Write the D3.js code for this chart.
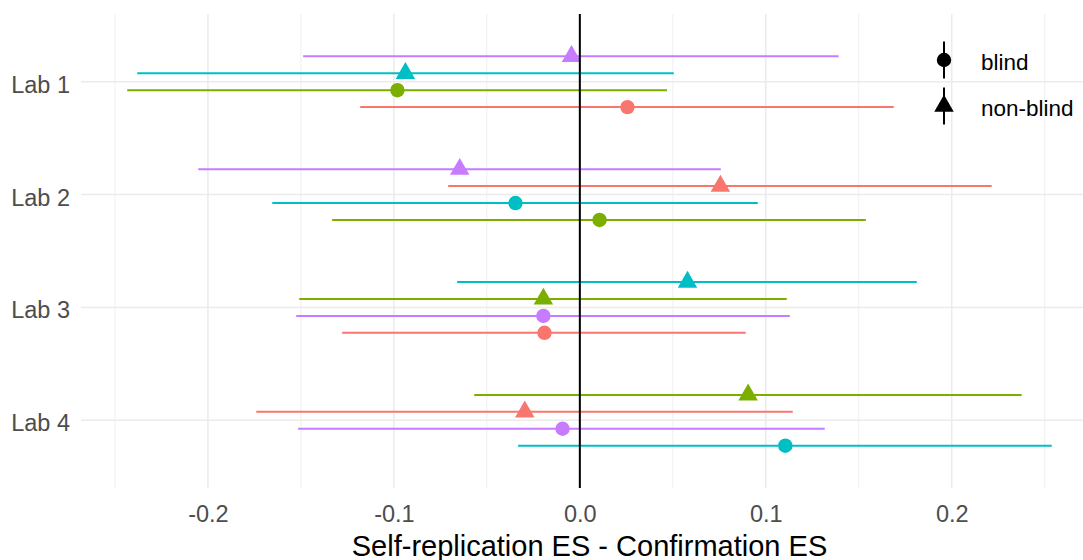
<!DOCTYPE html>
<html>
<head>
<meta charset="utf-8">
<script src="https://cdn.jsdelivr.net/npm/d3@7"></script>
<style>
  html, body { margin: 0; padding: 0; background: #fff; }
  svg { display: block; }
  text { font-family: "Liberation Sans", Arial, sans-serif; }
</style>
</head>
<body>
<svg id="chart" width="1083" height="560"></svg>
<script>
// ---- data ----
const labs = ["Lab 1", "Lab 2", "Lab 3", "Lab 4"];
const groups = ["A", "B", "C", "D"];
const groupColors = ["#F8766D", "#7CAE00", "#00BFC4", "#C77CFF"];
const conditions = ["blind", "non-blind"];
const xTicks = [-0.2, -0.1, 0.0, 0.1, 0.2];
const xTickLabels = ["-0.2", "-0.1", "0.0", "0.1", "0.2"];
const xMinorTicks = [-0.25, -0.15, -0.05, 0.05, 0.15, 0.25];

// rows listed top to bottom within each lab
const rowLab = ["Lab 1","Lab 1","Lab 1","Lab 1",
                "Lab 2","Lab 2","Lab 2","Lab 2",
                "Lab 3","Lab 3","Lab 3","Lab 3",
                "Lab 4","Lab 4","Lab 4","Lab 4"];
const rowGroup = ["D","C","B","A",
                  "D","A","C","B",
                  "C","B","D","A",
                  "B","A","D","C"];
const rowCondition = ["non-blind","non-blind","blind","blind",
                      "non-blind","non-blind","blind","blind",
                      "non-blind","non-blind","blind","blind",
                      "non-blind","non-blind","blind","blind"];
const estimate = [-0.0045, -0.0938, -0.0981, 0.0256,
                  -0.0646,  0.0756, -0.0346, 0.0106,
                   0.0579, -0.0196, -0.0196, -0.0190,
                   0.0905, -0.0296, -0.0093, 0.1105];
const lower = [-0.1488, -0.2380, -0.2434, -0.1181,
               -0.2052, -0.0708, -0.1654, -0.1332,
               -0.0660, -0.1509, -0.1525, -0.1278,
               -0.0568, -0.1740, -0.1515, -0.0332];
const upper = [0.1392, 0.0505, 0.0469, 0.1688,
               0.0758, 0.2215, 0.0957, 0.1538,
               0.1812, 0.1113, 0.1129, 0.0892,
               0.2376, 0.1145, 0.1317, 0.2538];

// ---- build rows ----
const slotCounter = {};
const rows = rowLab.map((lab, i) => {
  slotCounter[lab] = (slotCounter[lab] || 0);
  const slot = slotCounter[lab]++;
  return { lab, slot, group: rowGroup[i], cond: rowCondition[i],
           est: estimate[i], lo: lower[i], hi: upper[i] };
});

// ---- layout ----
const W = 1083, H = 560;
const panel = { left: 81, right: 1098, top: 14, bottom: 488 };
const svg = d3.select("#chart");

const allVals = lower.concat(upper);
const dMin = d3.min(allVals), dMax = d3.max(allVals);
const pad = (dMax - dMin) * 0.05;
const x = d3.scaleLinear().domain([dMin - pad, dMax + pad]).range([panel.left, panel.right]);

const y = d3.scalePoint().domain(labs).range([panel.top, panel.bottom]).padding(0.6);
const step = y.step();
const dodge = d3.scaleBand().domain([0, 1, 2, 3]).range([-0.3 * step, 0.3 * step]);
const yPos = d => y(d.lab) + dodge(d.slot) + dodge.bandwidth() / 2;

const color = d3.scaleOrdinal().domain(groups).range(groupColors);
const shapeType = d3.scaleOrdinal().domain(conditions).range([d3.symbolCircle, d3.symbolTriangle]);
const shapeSize = d3.scaleOrdinal().domain(conditions).range([Math.PI * 7.2 * 7.2, 165]);

// ---- grid ----
const grid = svg.append("g");
grid.selectAll("line.minor").data(xMinorTicks).join("line")
  .attr("x1", d => x(d)).attr("x2", d => x(d))
  .attr("y1", panel.top).attr("y2", panel.bottom)
  .attr("stroke", "#EBEBEB").attr("stroke-width", 0.8);
grid.selectAll("line.major").data(xTicks).join("line")
  .attr("x1", d => x(d)).attr("x2", d => x(d))
  .attr("y1", panel.top).attr("y2", panel.bottom)
  .attr("stroke", "#EBEBEB").attr("stroke-width", 1.5);
grid.selectAll("line.hmajor").data(labs).join("line")
  .attr("x1", panel.left).attr("x2", panel.right)
  .attr("y1", d => y(d)).attr("y2", d => y(d))
  .attr("stroke", "#EBEBEB").attr("stroke-width", 1.5);

// ---- error bars ----
svg.append("g").selectAll("line").data(rows).join("line")
  .attr("x1", d => x(d.lo)).attr("x2", d => x(d.hi))
  .attr("y1", d => yPos(d)).attr("y2", d => yPos(d))
  .attr("stroke", d => color(d.group)).attr("stroke-width", 2);

// ---- points ----
svg.append("g").selectAll("path").data(rows).join("path")
  .attr("transform", d => `translate(${x(d.est)},${yPos(d)})`)
  .attr("d", d => d3.symbol().type(shapeType(d.cond)).size(shapeSize(d.cond))())
  .attr("fill", d => color(d.group));

// ---- zero line ----
svg.append("line")
  .attr("x1", x(0)).attr("x2", x(0))
  .attr("y1", panel.top).attr("y2", panel.bottom)
  .attr("stroke", "#000").attr("stroke-width", 2);

// ---- axes (text) ----
const xAxis = d3.axisBottom(x).tickValues(xTicks)
  .tickFormat((d, i) => xTickLabels[i]).tickSize(0).tickPadding(0);
const gx = svg.append("g").attr("transform", `translate(0,${panel.bottom})`).call(xAxis);
gx.select(".domain").remove();
gx.selectAll("text")
  .attr("y", 33.5).attr("dy", null)
  .attr("fill", "#4D4D4D").style("font-size", "23.5px")
  .style("font-family", "'Liberation Sans', Arial, sans-serif");

const yAxis = d3.axisLeft(y).tickSize(0).tickPadding(0);
const gy = svg.append("g").attr("transform", `translate(70,0)`).call(yAxis);
gy.select(".domain").remove();
gy.selectAll("text")
  .attr("x", 0).attr("dy", null).attr("y", 10.5)
  .attr("fill", "#4D4D4D").style("font-size", "23.5px")
  .style("font-family", "'Liberation Sans', Arial, sans-serif");

svg.append("text")
  .attr("x", (panel.left + panel.right) / 2).attr("y", 555.5)
  .attr("text-anchor", "middle").attr("fill", "#000")
  .style("font-size", "29px")
  .text("Self-replication ES - Confirmation ES");

// ---- legend ----
const legend = svg.append("g");
const keyY = d3.scalePoint().domain(conditions).range([60, 106]);
const keys = legend.selectAll("g").data(conditions).join("g")
  .attr("transform", d => `translate(944,${keyY(d)})`);
keys.append("line").attr("x1", 0).attr("x2", 0).attr("y1", -18.5).attr("y2", 18.5)
  .attr("stroke", "#000").attr("stroke-width", 2);
keys.append("path")
  .attr("d", d => d3.symbol().type(shapeType(d)).size(shapeSize(d))())
  .attr("fill", "#000");
keys.append("text").attr("x", 37).attr("y", 9.8)
  .attr("fill", "#000").style("font-size", "22.5px")
  .text(d => d);
</script>
</body>
</html>
